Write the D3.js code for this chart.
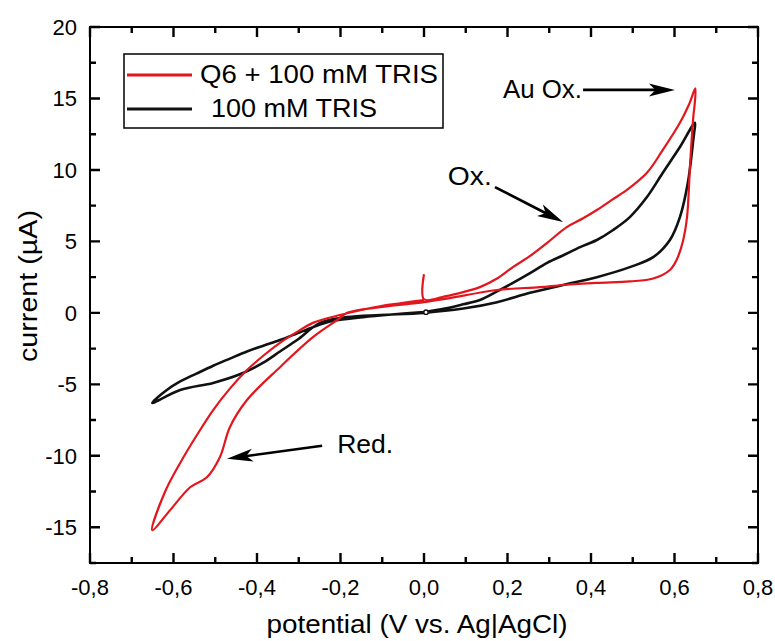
<!DOCTYPE html>
<html>
<head>
<meta charset="utf-8">
<script src="https://cdn.jsdelivr.net/npm/d3@7"></script>
<style>
  html, body { margin: 0; padding: 0; background: #fff; }
  svg { display: block; font-family: "Liberation Sans", Arial, sans-serif; }
</style>
</head>
<body>
<svg id="chart" width="775" height="641"></svg>
<script>
// Cyclic voltammograms: potential (V vs. Ag|AgCl) and current (µA), in scan order.
const q6Potential = [
  0.000, 0.000,
  0.050, 0.100, 0.134, 0.175, 0.213, 0.255, 0.295, 0.342, 0.380, 0.414, 0.450, 0.486, 0.534, 0.572, 0.613, 0.635, 0.650,
  0.648, 0.645, 0.637, 0.630, 0.620, 0.605, 0.589, 0.549, 0.493, 0.414, 0.333, 0.278, 0.175, 0.055, 0.000, -0.105, -0.184,
  -0.208, -0.266, -0.345, -0.424, -0.465, -0.489, -0.520, -0.560, -0.608, -0.651,
  -0.620, -0.584, -0.545, -0.505, -0.465, -0.424, -0.385, -0.345, -0.305, -0.266, -0.201, -0.150, -0.100, -0.050, 0.000
];
const q6Current = [
  2.7, 0.95,
  1.15, 1.5, 1.8, 2.4, 3.2, 4.0, 4.9, 6.0, 6.6, 7.2, 7.9, 8.6, 9.8, 11.4, 13.3, 14.6, 15.7,
  14.5, 13.7, 10.2, 6.7, 5.0, 3.7, 3.0, 2.4, 2.2, 2.1, 1.95, 1.8, 1.6, 1.0, 0.75, 0.4, 0.0,
  -0.5, -1.7, -3.8, -6.1, -8.0, -10.1, -11.5, -12.2, -13.8, -15.2,
  -12.5, -10.5, -8.6, -6.8, -5.3, -4.0, -3.0, -2.1, -1.35, -0.7, -0.15, 0.2, 0.5, 0.7, 0.9
];

const trisPotential = [
  0.000, 0.050, 0.094, 0.134, 0.175, 0.213, 0.255, 0.295, 0.335, 0.374, 0.414, 0.453, 0.493, 0.534, 0.572, 0.613, 0.649,
  0.647, 0.645, 0.632, 0.613, 0.589, 0.549, 0.493, 0.414, 0.333, 0.254, 0.175, 0.094, 0.000, -0.105, -0.184,
  -0.249, -0.304, -0.345, -0.386, -0.441, -0.505, -0.584, -0.651,
  -0.616, -0.584, -0.545, -0.505, -0.465, -0.424, -0.385, -0.345, -0.305, -0.266, -0.225, -0.146, -0.070, 0.000
];
const trisCurrent = [
  0.05, 0.3, 0.6, 0.9, 1.5, 2.1, 2.8, 3.5, 4.05, 4.6, 5.1, 5.8, 6.7, 8.1, 9.8, 11.6, 13.3,
  12.6, 12.1, 9.1, 6.7, 5.1, 3.9, 3.2, 2.5, 1.95, 1.4, 0.75, 0.3, 0.0, -0.15, -0.3,
  -0.7, -1.9, -2.7, -3.5, -4.3, -4.9, -5.4, -6.3,
  -5.4, -4.8, -4.25, -3.7, -3.2, -2.7, -2.3, -1.9, -1.45, -1.0, -0.6, -0.3, -0.1, 0.05
];

const seriesNames = ["Q6 + 100 mM TRIS", "100 mM TRIS"];
const seriesColors = ["#e3161d", "#111111"];

const xTicks = [-0.8, -0.6, -0.4, -0.2, 0.0, 0.2, 0.4, 0.6, 0.8];
const xMinorTicks = [-0.7, -0.5, -0.3, -0.1, 0.1, 0.3, 0.5, 0.7];
const yTicks = [-15, -10, -5, 0, 5, 10, 15, 20];
const yMinorTicks = [-17.5, -12.5, -7.5, -2.5, 2.5, 7.5, 12.5, 17.5];

// Annotations in data units: label anchor and arrow start/end
const annotationText = ["Au Ox.", "Ox.", "Red."];
const annotationLabelXY = [[0.189, 15.03], [0.057, 8.94], [-0.208, -9.8]];
const annotationArrowFrom = [[0.381, 15.6], [0.170, 8.8], [-0.244, -9.3]];
const annotationArrowTo = [[0.601, 15.6], [0.333, 6.35], [-0.472, -10.2]];
const annotationWidths = [79, 44, 56];

const svg = d3.select("#chart");
const margin = { left: 90, right: 17, top: 27, bottom: 78 };
const W = 775, H = 641;

const x = d3.scaleLinear().domain([-0.8, 0.8]).range([margin.left, W - margin.right]);
const y = d3.scaleLinear().domain([-17.5, 20]).range([H - margin.bottom, margin.top]);

const locale = d3.formatLocale({ decimal: ",", thousands: ".", grouping: [3], currency: ["", ""], minus: "-" });
const fmtX = locale.format(".1f");
const fmtY = locale.format("d");

const tickFont = 22;
const majorLen = 10, minorLen = 6;
const x0 = x.range()[0], x1 = x.range()[1];
const yB = y.range()[0], yT = y.range()[1];

// Plot frame
svg.append("rect")
  .attr("x", x0).attr("y", yT)
  .attr("width", x1 - x0).attr("height", yB - yT)
  .attr("fill", "none").attr("stroke", "#000").attr("stroke-width", 2);

// Inward ticks on all four sides, built as one path
const tickPath = d3.path();
function addXTicks(vals, len) {
  vals.forEach(v => {
    tickPath.moveTo(x(v), yB); tickPath.lineTo(x(v), yB - len);
    tickPath.moveTo(x(v), yT); tickPath.lineTo(x(v), yT + len);
  });
}
function addYTicks(vals, len) {
  vals.forEach(v => {
    tickPath.moveTo(x0, y(v)); tickPath.lineTo(x0 + len, y(v));
    tickPath.moveTo(x1, y(v)); tickPath.lineTo(x1 - len, y(v));
  });
}
addXTicks(xTicks, majorLen);
addXTicks(xMinorTicks, minorLen);
addYTicks(yTicks, majorLen);
addYTicks(yMinorTicks, minorLen);
svg.append("path")
  .attr("d", tickPath.toString())
  .attr("fill", "none")
  .attr("stroke", "#000")
  .attr("stroke-width", 2.4);

// Tick labels
svg.append("g").selectAll("text").data(xTicks).join("text")
  .attr("x", d => x(d)).attr("y", yB + 32)
  .attr("text-anchor", "middle").attr("font-size", tickFont).attr("fill", "#000")
  .text(d => fmtX(d));
svg.append("g").selectAll("text").data(yTicks).join("text")
  .attr("x", x0 - 13).attr("y", d => y(d)).attr("dy", "0.35em")
  .attr("text-anchor", "end").attr("font-size", tickFont).attr("fill", "#000")
  .text(d => fmtY(d));

// Curves
const line = d3.line()
  .x(d => x(d[0])).y(d => y(d[1]))
  .curve(d3.curveCatmullRom.alpha(0.5));

const trisData = trisPotential.map((v, i) => [v, trisCurrent[i]]);
const q6Data = q6Potential.map((v, i) => [v, q6Current[i]]);

svg.append("path").datum(trisData)
  .attr("d", line).attr("fill", "none")
  .attr("stroke", seriesColors[1]).attr("stroke-width", 2.6)
  .attr("stroke-linejoin", "round");
// small start marker of the blank scan
svg.append("circle")
  .attr("cx", x(trisData[0][0]) + 2).attr("cy", y(trisData[0][1]))
  .attr("r", 2.2).attr("fill", "#fff").attr("stroke", seriesColors[1]).attr("stroke-width", 1.4);

svg.append("path").datum(q6Data)
  .attr("d", line).attr("fill", "none")
  .attr("stroke", seriesColors[0]).attr("stroke-width", 2.2)
  .attr("stroke-linejoin", "round");

// Annotations with filled arrowheads
function arrowHead(ax, ay, bx2, by2, len, half) {
  const a = Math.atan2(by2 - ay, bx2 - ax);
  const ux = Math.cos(a), uy = Math.sin(a);
  const px = -uy, py = ux;
  const bx = bx2 - ux * len, by = by2 - uy * len;
  const nx = bx2 - ux * len * 0.75, ny = by2 - uy * len * 0.75;
  return `M${bx2},${by2}L${bx + px * half},${by + py * half}L${nx},${ny}L${bx - px * half},${by - py * half}Z`;
}

annotationText.forEach((t, i) => {
  const [fx, fy] = annotationArrowFrom[i];
  const [tx, ty] = annotationArrowTo[i];
  const ax = x(fx), ay = y(fy), bx = x(tx), by = y(ty);
  const a = Math.atan2(by - ay, bx - ax);
  const len = 26;
  svg.append("line")
    .attr("x1", ax).attr("y1", ay)
    .attr("x2", bx - Math.cos(a) * len * 0.7).attr("y2", by - Math.sin(a) * len * 0.7)
    .attr("stroke", "#000").attr("stroke-width", 2.6);
  svg.append("path").attr("d", arrowHead(ax, ay, bx, by, len, 6.5)).attr("fill", "#000");
  svg.append("text")
    .attr("x", x(annotationLabelXY[i][0])).attr("y", y(annotationLabelXY[i][1]))
    .attr("font-size", 25).attr("fill", "#000")
    .attr("textLength", annotationWidths[i]).attr("lengthAdjust", "spacingAndGlyphs")
    .text(t);
});

// Legend
const legend = svg.append("g");
legend.append("rect")
  .attr("x", 124).attr("y", 54).attr("width", 319).attr("height", 74)
  .attr("fill", "#fff").attr("stroke", "#000").attr("stroke-width", 1.5);
const legendRows = [
  { lineY: 75, textX: 200, textY: 83, width: 238 },
  { lineY: 109, textX: 211, textY: 117, width: 166 }
];
seriesNames.forEach((name, i) => {
  const r = legendRows[i];
  legend.append("line")
    .attr("x1", 127).attr("x2", 192).attr("y1", r.lineY).attr("y2", r.lineY)
    .attr("stroke", seriesColors[i]).attr("stroke-width", 3);
  legend.append("text")
    .attr("x", r.textX).attr("y", r.textY)
    .attr("font-size", 25).attr("fill", "#000")
    .attr("textLength", r.width).attr("lengthAdjust", "spacingAndGlyphs")
    .text(name);
});

// Axis titles
svg.append("text")
  .attr("x", 417).attr("y", 633)
  .attr("text-anchor", "middle")
  .attr("font-size", 26).attr("fill", "#000")
  .attr("textLength", 301).attr("lengthAdjust", "spacingAndGlyphs")
  .text("potential (V vs. Ag|AgCl)");

svg.append("text")
  .attr("transform", "translate(37,286) rotate(-90)")
  .attr("text-anchor", "middle")
  .attr("font-size", 25).attr("fill", "#000")
  .attr("textLength", 152).attr("lengthAdjust", "spacingAndGlyphs")
  .text("current (µA)");
</script>
</body>
</html>
